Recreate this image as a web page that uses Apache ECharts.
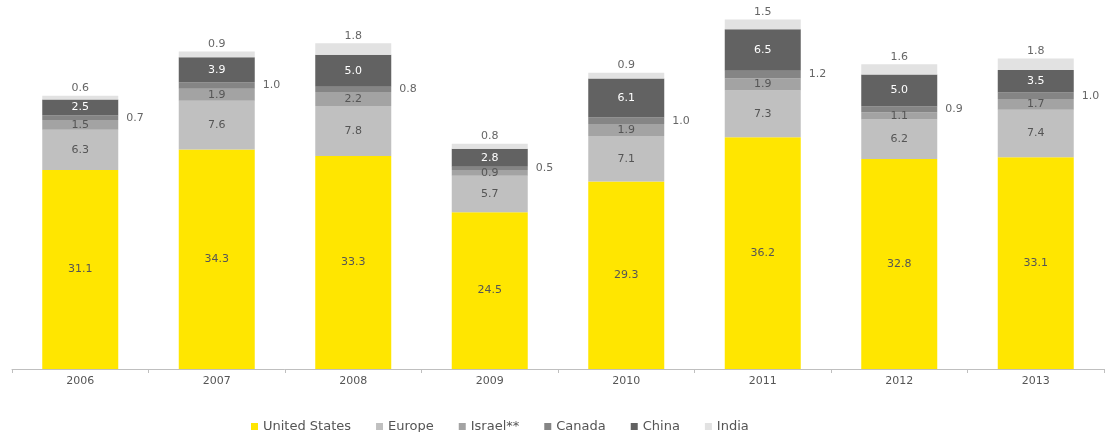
<!DOCTYPE html>
<html><head><meta charset="utf-8">
<script src="https://cdn.jsdelivr.net/npm/echarts@6/dist/echarts.min.js"></script>
<style>html,body{margin:0;padding:0;background:#fff}#c{width:1105px;height:432px}</style>
</head><body><div id="c"></div>
<script>
const years = ['2006','2007','2008','2009','2010','2011','2012','2013'];
const unitedStates = [31.1, 34.3, 33.3, 24.5, 29.3, 36.2, 32.8, 33.1];
const europe = [6.3, 7.6, 7.8, 5.7, 7.1, 7.3, 6.2, 7.4];
const israel = [1.5, 1.9, 2.2, 0.9, 1.9, 1.9, 1.1, 1.7];
const canada = [0.7, 1.0, 0.8, 0.5, 1.0, 1.2, 0.9, 1.0];
const china = [2.5, 3.9, 5.0, 2.8, 6.1, 6.5, 5.0, 3.5];
const india = [0.6, 0.9, 1.8, 0.8, 0.9, 1.5, 1.6, 1.8];
const seriesNames = ['United States', 'Europe', 'Israel**', 'Canada', 'China', 'India'];

const font = 'DejaVu Sans';
const fmt = p => p.value.toFixed(1);
function mk(name, data, color, label) {
  return {
    name, type: 'bar', stack: 'total', data, barWidth: 76,
    itemStyle: { color },
    label: Object.assign({ show: true, formatter: fmt, fontFamily: font, fontSize: 11, color: '#555' }, label),
    emphasis: { disabled: true }
  };
}
const legendWidths = [122, 60, 75, 67, 50, 43];
const rich = {};
seriesNames.forEach((n, i) => { rich['w' + i] = { width: legendWidths[i], fontFamily: font, fontSize: 13, color: '#555' }; });

const chart = echarts.init(document.getElementById('c'));
chart.setOption({
  animation: false,
  grid: { left: 12, right: 1, top: 17, bottom: 63 },
  legend: {
    top: 415, left: 246, itemWidth: 7, itemHeight: 7, itemGap: 25,
    icon: 'rect',
    formatter: n => '{w' + seriesNames.indexOf(n) + '|' + n + '}',
    textStyle: { fontFamily: font, fontSize: 13, color: '#555', rich },
    data: seriesNames
  },
  xAxis: {
    type: 'category', data: years, boundaryGap: true,
    axisLine: { lineStyle: { color: '#bfbfbf' } },
    axisTick: { show: true, length: 4, lineStyle: { color: '#bfbfbf' } },
    axisLabel: { fontFamily: font, fontSize: 11, color: '#555', margin: 7 }
  },
  yAxis: { type: 'value', min: 0, max: 55, show: false, splitLine: { show: false } },
  series: [
    mk(seriesNames[0], unitedStates, '#FFE600', { position: 'inside' }),
    mk(seriesNames[1], europe, '#C0C0C0', { position: 'inside' }),
    mk(seriesNames[2], israel, '#A3A3A3', { position: 'inside' }),
    mk(seriesNames[3], canada, '#858585', { position: 'right', distance: 8, color: '#666' }),
    mk(seriesNames[4], china, '#626262', { position: 'inside', color: '#fff' }),
    mk(seriesNames[5], india, '#E2E2E2', { position: 'top', distance: 2, color: '#666' })
  ]
});
</script></body></html>
